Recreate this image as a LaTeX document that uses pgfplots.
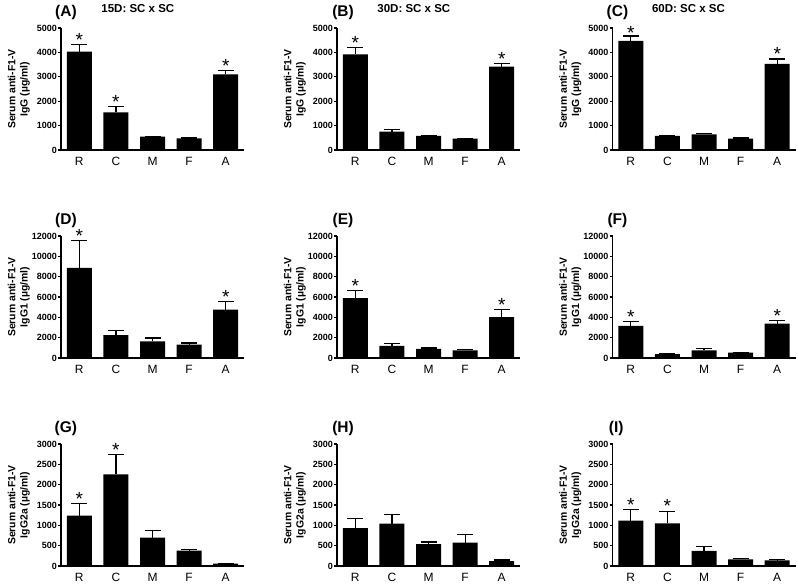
\documentclass[border=0pt]{standalone}
\usepackage{fontspec}
\setmainfont{Liberation Sans}
\usepackage{pgfplots}
\pgfplotsset{compat=1.18}

\pgfplotsset{
  panel/.style={
    scale only axis, width=183pt, height=122pt,
    anchor=south west,
    xmin=-0.5, xmax=4.5, ymin=0,
    axis x line=bottom, axis y line=left,
    axis line style={line width=1.3pt, -},
    xtick={0,1,2,3,4}, xticklabels={R,C,M,F,A},
    x tick style={draw=none},
    major tick length=3pt,
    tick align=outside,
    y tick style={line width=1.2pt, black},
    xticklabel style={font=\fontsize{12}{12}\selectfont, inner sep=0pt, yshift=-4pt},
    yticklabel style={font=\bfseries\fontsize{9}{9}\selectfont, inner sep=1pt},
    /pgf/number format/assume math mode=true,
    /pgf/number format/1000 sep={},
    scaled y ticks=false,
    y label style={at={(axis description cs:-0.23,0.5)}, anchor=center, align=center, font=\bfseries\fontsize{10.4}{12.3}\selectfont},
    clip=false,
  },
  bars/.style={ybar, bar width=25pt, bar shift=0pt, fill=black, draw=none,
    error bars/.cd, y dir=plus, y explicit,
    error bar style={draw=black, solid, line width=1.2pt},
    error mark options={rotate=90, mark size=8pt, line width=1.2pt, draw=black}},
  stars/.style={draw=none, mark=none, nodes near coords={*},
    every node near coord/.append style={anchor=south, inner sep=0pt, yshift=-2pt, font=\fontsize{19}{19}\selectfont}},
}
\tikzset{
  plab/.style={font=\bfseries\fontsize{15.5}{16}\selectfont},
  ptit/.style={font=\bfseries\fontsize{11.5}{12}\selectfont},
}

\begin{document}
\begin{tikzpicture}
\path[use as bounding box] (0,0) rectangle (800pt,584pt);

% ---------- Row 1: IgG ----------
\begin{axis}[panel, at={(61pt,434pt)}, ymax=5000, ytick={0,1000,...,5000},
  ylabel={Serum anti-F1-V\\IgG (µg/ml)}]
\addplot[bars] table[x=x,y=y,y error=e] {
x y e
0 4030 300
1 1545 230
2 545 15
3 480 10
4 3100 150
};
\addplot[stars] coordinates {(0,4330) (1,1775) (4,3250)};
\node[plab] at (rel axis cs:0.027,1.125) {(A)};
\node[ptit] at (rel axis cs:0.42,1.156) {15D: SC x SC};
\end{axis}

\begin{axis}[panel, at={(337pt,434pt)}, ymax=5000, ytick={0,1000,...,5000},
  ylabel={Serum anti-F1-V\\IgG (µg/ml)}]
\addplot[bars] table[x=x,y=y,y error=e] {
x y e
0 3920 270
1 750 100
2 575 20
3 470 15
4 3415 135
};
\addplot[stars] coordinates {(0,4190) (4,3550)};
\node[plab] at (rel axis cs:0.033,1.125) {(B)};
\node[ptit] at (rel axis cs:0.42,1.156) {30D: SC x SC};
\end{axis}

\begin{axis}[panel, at={(612.5pt,434pt)}, ymax=5000, ytick={0,1000,...,5000},
  ylabel={Serum anti-F1-V\\IgG (µg/ml)}]
\addplot[bars] table[x=x,y=y,y error=e] {
x y e
0 4470 200
1 575 25
2 640 50
3 470 25
4 3530 200
};
\addplot[stars] coordinates {(0,4600) (4,3730)};
\node[plab] at (rel axis cs:0.027,1.125) {(C)};
\node[ptit] at (rel axis cs:0.415,1.156) {60D: SC x SC};
\end{axis}

% ---------- Row 2: IgG1 ----------
\begin{axis}[panel, at={(61pt,226pt)}, ymax=12000, ytick={0,2000,...,12000},
  ylabel={Serum anti-F1-V\\IgG1 (µg/ml)}]
\addplot[bars] table[x=x,y=y,y error=e] {
x y e
0 8870 2670
1 2240 490
2 1640 330
3 1310 170
4 4770 750
};
\addplot[stars] coordinates {(0,11540) (4,5520)};
\node[plab] at (rel axis cs:0.027,1.125) {(D)};
\end{axis}

\begin{axis}[panel, at={(337pt,226pt)}, ymax=12000, ytick={0,2000,...,12000},
  ylabel={Serum anti-F1-V\\IgG1 (µg/ml)}]
\addplot[bars] table[x=x,y=y,y error=e] {
x y e
0 5900 750
1 1200 250
2 900 80
3 750 100
4 4010 750
};
\addplot[stars] coordinates {(0,6650) (4,4760)};
\node[plab] at (rel axis cs:0.033,1.125) {(E)};
\end{axis}

\begin{axis}[panel, at={(612.5pt,226pt)}, ymax=12000, ytick={0,2000,...,12000},
  ylabel={Serum anti-F1-V\\IgG1 (µg/ml)}]
\addplot[bars] table[x=x,y=y,y error=e] {
x y e
0 3160 430
1 380 50
2 760 170
3 520 40
4 3390 300
};
\addplot[stars] coordinates {(0,3590) (4,3690)};
\node[plab] at (rel axis cs:0.027,1.125) {(F)};
\end{axis}

% ---------- Row 3: IgG2a ----------
\begin{axis}[panel, at={(61pt,18pt)}, ymax=3000, ytick={0,500,...,3000},
  ylabel={Serum anti-F1-V\\IgG2a (µg/ml)}]
\addplot[bars] table[x=x,y=y,y error=e] {
x y e
0 1240 300
1 2255 490
2 700 165
3 377 33
4 57 8
};
\addplot[stars] coordinates {(0,1540) (1,2745)};
\node[plab] at (rel axis cs:0.027,1.125) {(G)};
\end{axis}

\begin{axis}[panel, at={(337pt,18pt)}, ymax=3000, ytick={0,500,...,3000},
  ylabel={Serum anti-F1-V\\IgG2a (µg/ml)}]
\addplot[bars] table[x=x,y=y,y error=e] {
x y e
0 930 245
1 1045 230
2 535 57
3 575 190
4 123 25
};
\node[plab] at (rel axis cs:0.033,1.125) {(H)};
\end{axis}

\begin{axis}[panel, at={(612.5pt,18pt)}, ymax=3000, ytick={0,500,...,3000},
  ylabel={Serum anti-F1-V\\IgG2a (µg/ml)}]
\addplot[bars] table[x=x,y=y,y error=e] {
x y e
0 1115 280
1 1050 300
2 370 105
3 165 25
4 139 17
};
\addplot[stars] coordinates {(0,1395) (1,1350)};
\node[plab] at (rel axis cs:0.02,1.125) {(I)};
\end{axis}
\end{tikzpicture}
\end{document}
